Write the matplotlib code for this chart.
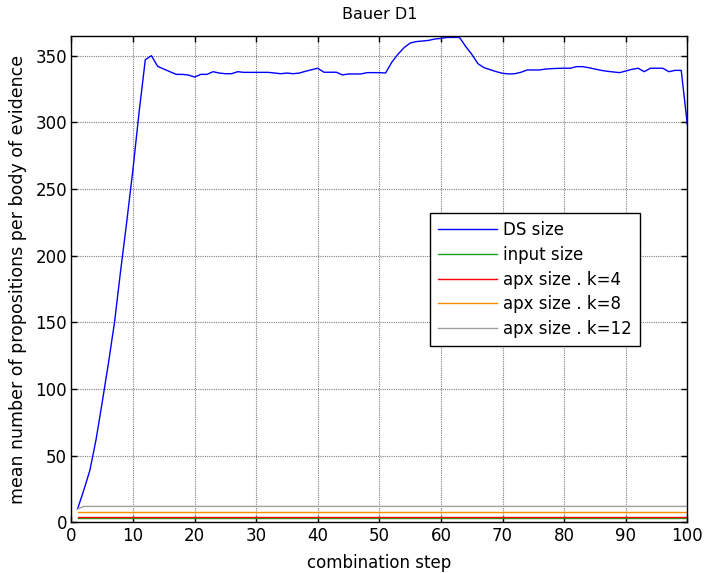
import numpy as np
import matplotlib
matplotlib.use('Agg')
import matplotlib.pyplot as plt

plt.rcParams['font.family'] = ['DejaVu Sans']
plt.rcParams['font.size'] = 12

steps = list(range(1, 101))

ds_size = [10, 24, 39, 62, 90, 119, 150, 189, 226, 265,
           308, 347, 350, 342, 340, 338, 336, 336, 335.5, 334,
           336, 336, 338, 337, 336.5, 336.5, 338, 337.5, 337.5, 337.5,
           337.5, 337.5, 337, 336.5, 337, 336.5, 337, 338.3, 339.5, 340.6,
           337.6, 337.6, 337.6, 335.6, 336.3, 336.3, 336.3, 337.3, 337.3, 337.3,
           337, 345, 351, 356, 359.5, 360.6, 361, 361.5, 362.5, 363,
           363.7, 363.7, 363.7, 357, 351, 344, 341, 339.5, 338, 336.8,
           336.3, 336.5, 337.6, 339.3, 339.3, 339.3, 340, 340.3, 340.5, 340.6,
           340.6, 341.8, 341.8, 341, 340, 339, 338.3, 337.8, 337.3, 338.5,
           339.8, 340.6, 338, 340.6, 340.6, 340.6, 338, 339, 339, 298]
input_size = [3] * 100
apx_k4 = [4] * 100
apx_k8 = [8] * 100
apx_k12 = [10] + [12] * 99

labels = ['DS size', 'input size', 'apx size . k=4', 'apx size . k=8', 'apx size . k=12']
colors = ['#0000FF', '#1E9E1E', '#FF0000', '#FF8C00', '#A0A0A0']

fig = plt.figure(figsize=(7.04, 5.73), dpi=100)
ax = fig.add_axes([0.1014, 0.0883, 0.875, 0.8494])

series = [ds_size, input_size, apx_k4, apx_k8, apx_k12]
for vals, lab, col in zip(series, labels, colors):
    ax.plot(steps, vals, color=col, lw=1.0, label=lab)

ax.set_xlim(0, 100)
ax.set_ylim(0, 365)
ax.set_xticks(np.arange(0, 101, 10))
ax.set_yticks(np.arange(0, 351, 50))
ax.grid(True, color='#808080', linestyle=(0, (1, 1)), lw=0.8)
ax.tick_params(direction='in', top=True, right=True, length=4, width=1,
               colors='black', pad=3)
for s in ax.spines.values():
    s.set_linewidth(1.0)

ax.set_title('Bauer D1', fontsize=11.5, pad=12)
ax.set_xlabel('combination step', labelpad=7)
ax.set_ylabel('mean number of propositions per body of evidence', fontsize=12.5, labelpad=6)

leg = ax.legend(loc='upper left', bbox_to_anchor=(0.582, 0.636), fancybox=False,
                edgecolor='black', framealpha=1, borderpad=0.5, labelspacing=0.4,
                handlelength=3.5, handletextpad=0.4, borderaxespad=0)
leg.get_frame().set_linewidth(1.0)

fig.savefig('out.png', dpi=100)
